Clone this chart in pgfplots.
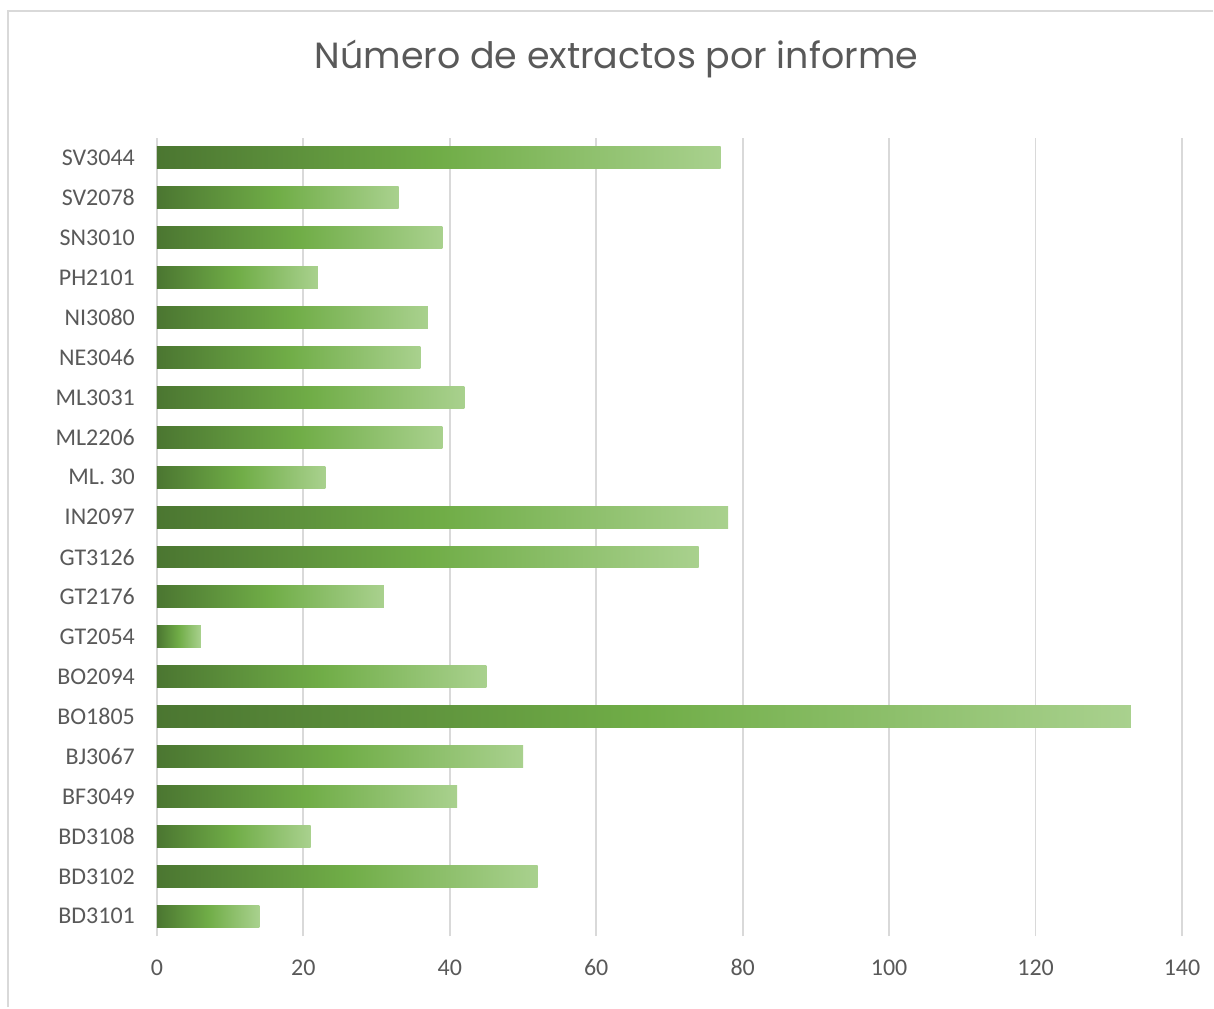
\documentclass[border=0pt]{standalone}
\usepackage{fontspec}
\setmainfont{Carlito}
\newfontfamily\titlefont{Poppins}
\usepackage{pgfplots}
\pgfplotsset{compat=1.18}
\definecolor{txtgray}{HTML}{595959}
\definecolor{gridgray}{HTML}{D9D9D9}
\definecolor{gdark}{HTML}{4B7631}
\definecolor{gmid}{HTML}{70AD47}
\definecolor{glight}{HTML}{A9D18E}
% middle color must come after left/right color, or it is reset
\pgfplotsset{greenbar/.style={draw=none, bar shift=0pt, left color=gdark, right color=glight, middle color=gmid}}
\begin{document}
\begin{tikzpicture}
% page = 1214 x 1008 px, 1 px = 0.75pt
\path[fill=white] (0,0) rectangle (910.5pt,756pt);
\draw[gridgray, line width=1.5pt] (6pt,0) -- (6pt,747.75pt) -- (910.5pt,747.75pt);
\node[font=\titlefont\fontsize{27.3}{31}\selectfont, text=txtgray] at (462.75pt,711.5pt) {Número de extractos por informe};
\begin{axis}[
    at={(117.75pt,53.25pt)}, anchor=south west,
    width=769.5pt, height=599.25pt, scale only axis,
    xbar, bar width=16.5pt,
    xmin=0, xmax=140, ymin=-0.5, ymax=19.5,
    xtick={0,20,...,140},
    ytick={0,...,19},
    yticklabels={BD3101,BD3102,BD3108,BF3049,BJ3067,BO1805,BO2094,GT2054,GT2176,GT3126,IN2097,ML. 30,ML2206,ML3031,NE3046,NI3080,PH2101,SN3010,SV2078,SV3044},
    axis line style={draw=none},
    major tick length=0pt,
    xmajorgrids, grid style={gridgray, line width=1.3pt},
    ticklabel style={font=\fontsize{18}{21}\selectfont, text=txtgray},
    /pgf/number format/assume math mode=true,
    yticklabel style={xshift=-13pt},
    xticklabel style={yshift=-14pt},
    clip=false,
]
% one plot per bar so that each bar gets its own gradient
\addplot[greenbar] coordinates {(14,0)};
\addplot[greenbar] coordinates {(52,1)};
\addplot[greenbar] coordinates {(21,2)};
\addplot[greenbar] coordinates {(41,3)};
\addplot[greenbar] coordinates {(50,4)};
\addplot[greenbar] coordinates {(133,5)};
\addplot[greenbar] coordinates {(45,6)};
\addplot[greenbar] coordinates {(6,7)};
\addplot[greenbar] coordinates {(31,8)};
\addplot[greenbar] coordinates {(74,9)};
\addplot[greenbar] coordinates {(78,10)};
\addplot[greenbar] coordinates {(23,11)};
\addplot[greenbar] coordinates {(39,12)};
\addplot[greenbar] coordinates {(42,13)};
\addplot[greenbar] coordinates {(36,14)};
\addplot[greenbar] coordinates {(37,15)};
\addplot[greenbar] coordinates {(22,16)};
\addplot[greenbar] coordinates {(39,17)};
\addplot[greenbar] coordinates {(33,18)};
\addplot[greenbar] coordinates {(77,19)};
\end{axis}
\end{tikzpicture}
\end{document}
